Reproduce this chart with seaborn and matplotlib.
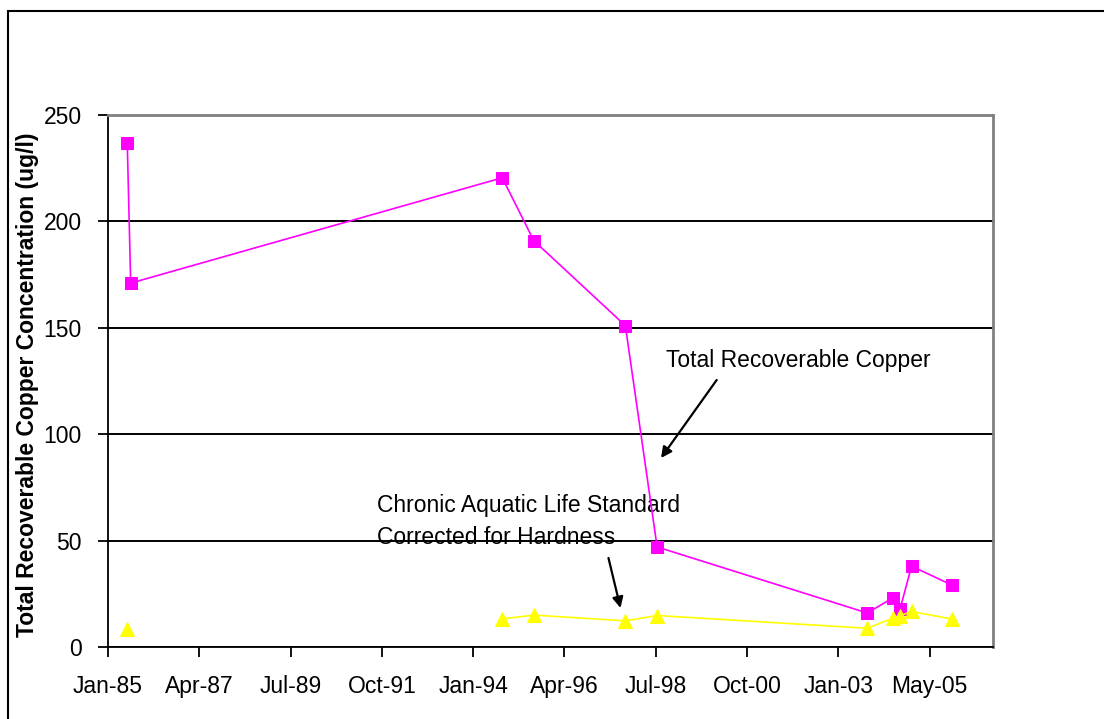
import matplotlib
matplotlib.use('Agg')
import matplotlib.pyplot as plt
import matplotlib.dates as mdates
from matplotlib.patches import Rectangle
import seaborn as sns
import pandas as pd
import numpy as np

# sample dates and concentrations (ug/l)
sample_dates = ['1985-06-24', '1985-07-25', '1994-10-04', '1995-07-15', '1997-10-20',
                '1998-08-03', '2003-10-14', '2004-06-01', '2004-08-07', '2004-11-18',
                '2005-11-22']
copper = [237, 171, 220.5, 191, 151, 47, 16, 23, 18, 38, 29]
standard = [8.3, np.nan, 13.2, 15.0, 12.3, 14.8, 8.8, 13.5, 14.7, 16.7, 13.1]

y_ticks = [0, 50, 100, 150, 200, 250]

sns.set_style('white')
plt.rcParams['font.family'] = ['Liberation Sans', 'DejaVu Sans']
fs = 16.5

cu = pd.DataFrame({'date': pd.to_datetime(sample_dates), 'copper': copper})
st = pd.DataFrame({'date': pd.to_datetime(sample_dates), 'standard': standard})
# missing value breaks the line -> separate units
st['seg'] = st['standard'].isna().cumsum()
st = st.dropna()

fig = plt.figure(figsize=(11.04, 7.19), dpi=100)
ax = fig.add_axes([108/1104, 1-647/719, 885/1104, 532/719])

sns.lineplot(data=cu, x='date', y='copper', color='#FF00FF', marker='s',
             markersize=8, markeredgecolor='#FF00FF', lw=1.2, ax=ax, zorder=3)
sns.lineplot(data=st, x='date', y='standard', units='seg', estimator=None,
             color='#FFFF00', marker='^', markersize=9.5, markeredgecolor='#FFFF00',
             lw=1.2, ax=ax, zorder=3)

# Excel date axis: major unit 825 days starting Jan-85
start = pd.Timestamp('1985-01-01')
x_ticks = [start + pd.Timedelta(days=825*k) for k in range(10)]
ax.set_xlim(start, start + pd.Timedelta(days=7997))
ax.set_xticks(x_ticks)
ax.xaxis.set_major_formatter(mdates.DateFormatter('%b-%y'))

ax.set_ylim(0, 250)
ax.set_yticks(y_ticks)
ax.yaxis.grid(True, color='black', lw=1.4)
ax.xaxis.grid(False)

ax.tick_params(axis='y', left=True, direction='out', length=7, width=1.3,
               pad=12, labelsize=fs, color='k', labelcolor='k')
ax.tick_params(axis='x', bottom=True, direction='out', length=7, width=1.3,
               pad=13, labelsize=fs, color='k', labelcolor='k')

for s in ['left', 'bottom']:
    ax.spines[s].set_color('black')
    ax.spines[s].set_linewidth(1.3)
for s in ['top', 'right']:
    ax.spines[s].set_color('#808080')
    ax.spines[s].set_linewidth(2)

ax.set_xlabel('')
ax.set_ylabel('Total Recoverable Copper Concentration (ug/l)', fontsize=fs,
              fontweight='bold', color='k', va='center')
ax.yaxis.set_label_coords(-0.0904, 0.4934)

# annotations
ax.text(0.6305, 0.5383, 'Total Recoverable Copper', transform=ax.transAxes,
        ha='left', va='center', fontsize=fs, color='k')
ax.annotate('', xy=(0.6249, 0.3553), xytext=(0.6878, 0.5019),
            xycoords='axes fraction', textcoords='axes fraction',
            arrowprops=dict(arrowstyle='-|>', lw=1.6, color='k', mutation_scale=16,
                            shrinkA=0, shrinkB=0))
ax.text(0.3043, 0.2359, 'Chronic Aquatic Life Standard\nCorrected for Hardness',
        transform=ax.transAxes, ha='left', va='center', fontsize=fs, color='k',
        linespacing=1.45, zorder=1)
ax.annotate('', xy=(0.5791, 0.0733), xytext=(0.5655, 0.1673),
            xycoords='axes fraction', textcoords='axes fraction',
            arrowprops=dict(arrowstyle='-|>', lw=1.6, color='k', mutation_scale=16,
                            shrinkA=0, shrinkB=0))

legend = ax.get_legend()
if legend is not None:
    legend.remove()

# outer chart frame (cut at right and bottom like the source)
fig.patches.append(Rectangle((8/1104, -0.1), 1.2, 1 - 11/719 + 0.1,
                             transform=fig.transFigure, fill=False,
                             ec='black', lw=1.5))

fig.savefig('out.png', dpi=100)
